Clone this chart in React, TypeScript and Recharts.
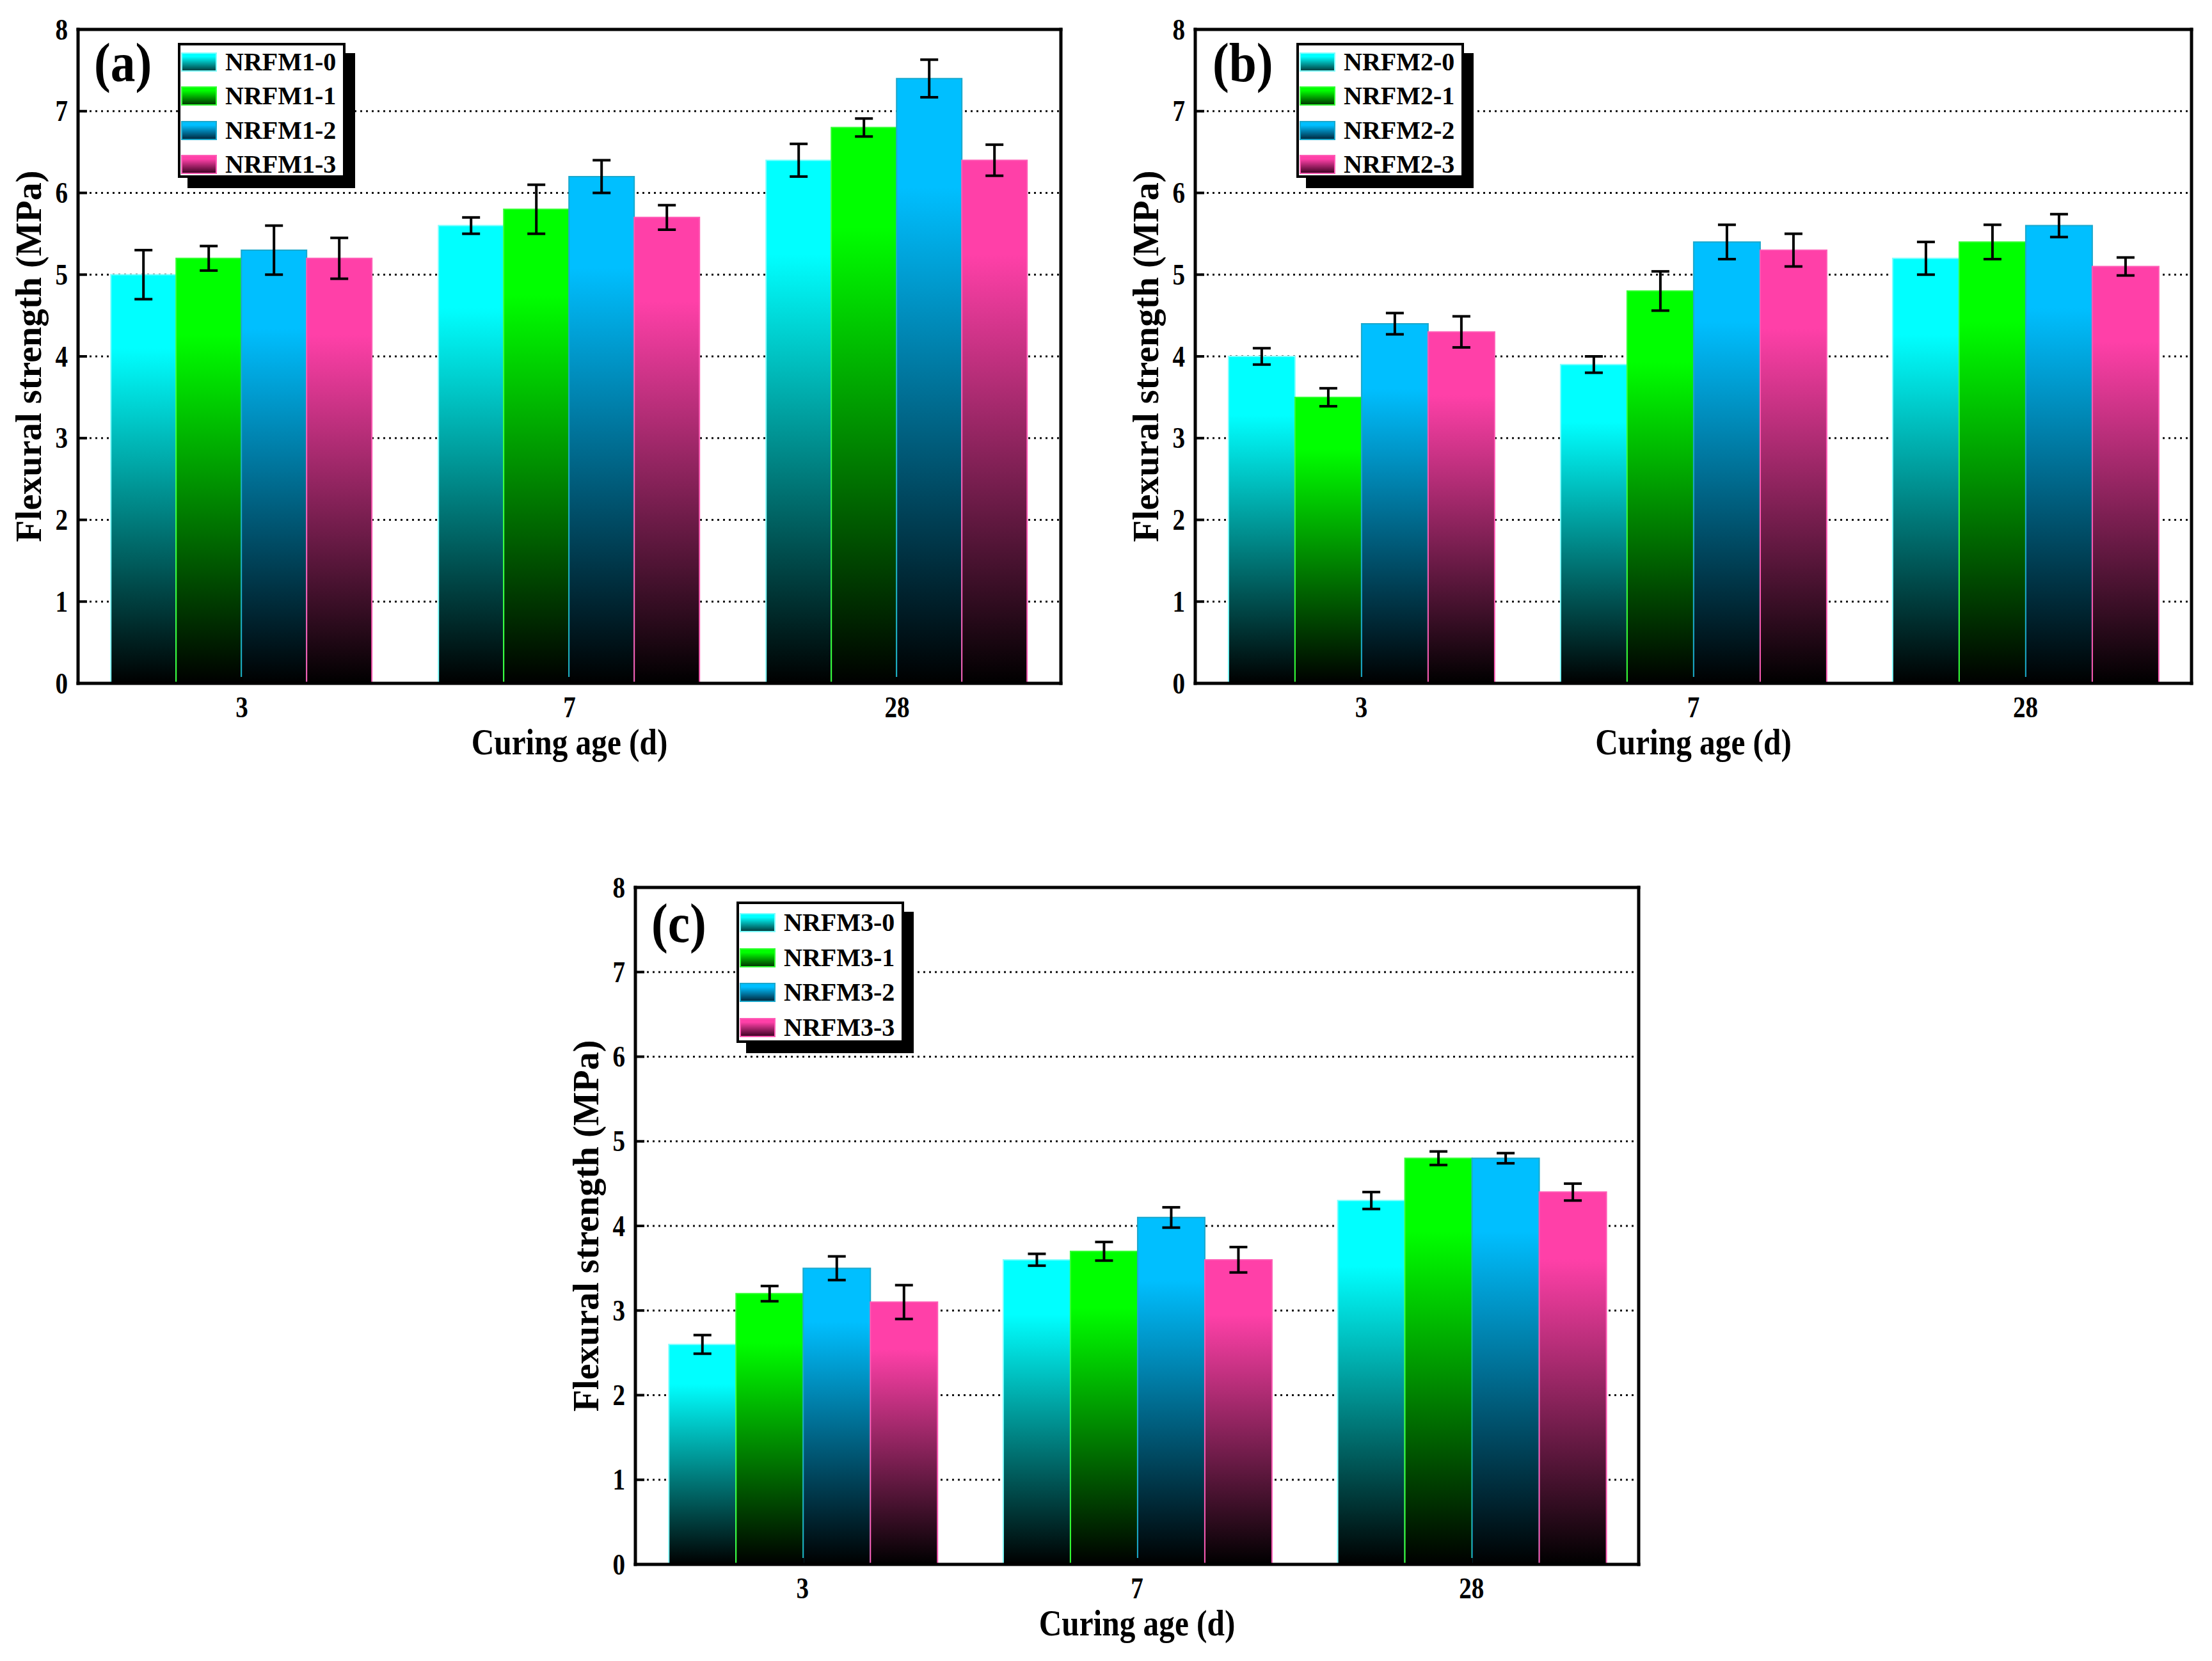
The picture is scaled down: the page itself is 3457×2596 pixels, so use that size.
import React from 'react';
import { BarChart, Bar, XAxis, YAxis, CartesianGrid, ErrorBar, Legend } from 'recharts';

// ---------- data ----------
const AGES = ['3', '7', '28'];
const Y_TICKS = [0, 1, 2, 3, 4, 5, 6, 7, 8];
const Y_MINOR_TICKS = [0.5, 1.5, 2.5, 3.5, 4.5, 5.5, 6.5, 7.5];
const X_MINOR_TICKS = [1, 2];

const A_NAMES = ['NRFM1-0', 'NRFM1-1', 'NRFM1-2', 'NRFM1-3'];
const A_S0 = [5.0, 5.6, 6.4];
const A_S1 = [5.2, 5.8, 6.8];
const A_S2 = [5.3, 6.2, 7.4];
const A_S3 = [5.2, 5.7, 6.4];
const A_E0 = [0.3, 0.1, 0.2];
const A_E1 = [0.15, 0.3, 0.11];
const A_E2 = [0.3, 0.2, 0.23];
const A_E3 = [0.25, 0.15, 0.19];

const B_NAMES = ['NRFM2-0', 'NRFM2-1', 'NRFM2-2', 'NRFM2-3'];
const B_S0 = [4.0, 3.9, 5.2];
const B_S1 = [3.5, 4.8, 5.4];
const B_S2 = [4.4, 5.4, 5.6];
const B_S3 = [4.3, 5.3, 5.1];
const B_E0 = [0.1, 0.1, 0.2];
const B_E1 = [0.11, 0.24, 0.21];
const B_E2 = [0.13, 0.21, 0.14];
const B_E3 = [0.19, 0.2, 0.11];

const C_NAMES = ['NRFM3-0', 'NRFM3-1', 'NRFM3-2', 'NRFM3-3'];
const C_S0 = [2.6, 3.6, 4.3];
const C_S1 = [3.2, 3.7, 4.8];
const C_S2 = [3.5, 4.1, 4.8];
const C_S3 = [3.1, 3.6, 4.4];
const C_E0 = [0.11, 0.07, 0.1];
const C_E1 = [0.09, 0.11, 0.08];
const C_E2 = [0.14, 0.12, 0.06];
const C_E3 = [0.2, 0.15, 0.1];

// ---------- styles ----------
const COLORS = ['#00FFFF', '#00FF00', '#00BFFF', '#FF40A8'];
const EDGES = ['#80FFFF', '#33FF33', '#1BA8CC', '#FF5CB6'];
const DARKS = ['#003838', '#003000', '#002438', '#3a0020'];
const FONT = "'Liberation Serif', 'Times New Roman', serif";
const OFF = 8;

const PANELS = [
  {
    pid: 'a', tag: '(a)', names: A_NAMES,
    values: [A_S0, A_S1, A_S2, A_S3], errors: [A_E0, A_E1, A_E2, A_E3],
    box: { x: 0, y: 0, w: 1700, h: 1240 },
    plot: { l: 122, r: 1658, t: 46, b: 1068 },
    legend: { x: 278, y: 67, h: 211, row0: 30, step: 53.3 },
    tagPos: { x: 147, y: 127 },
  },
  {
    pid: 'b', tag: '(b)', names: B_NAMES,
    values: [B_S0, B_S1, B_S2, B_S3], errors: [B_E0, B_E1, B_E2, B_E3],
    box: { x: 1740, y: 0, w: 1709, h: 1240 },
    plot: { l: 1868, r: 3425, t: 46, b: 1068 },
    legend: { x: 2026, y: 67, h: 211, row0: 30, step: 53.3 },
    tagPos: { x: 1895, y: 127 },
  },
  {
    pid: 'c', tag: '(c)', names: C_NAMES,
    values: [C_S0, C_S1, C_S2, C_S3], errors: [C_E0, C_E1, C_E2, C_E3],
    box: { x: 870, y: 1330, w: 1760, h: 1248 },
    plot: { l: 993, r: 2561, t: 1387, b: 2445 },
    legend: { x: 1151, y: 1409, h: 221, row0: 33, step: 54.7 },
    tagPos: { x: 1018, y: 1472 },
  },
];

const YTick = (props: any) => {
  const { x, y, payload } = props;
  return (
    <text transform={`translate(${x},${y}) scale(0.85,1)`} textAnchor="end" dy="0.34em"
      fontFamily={FONT} fontWeight="bold" fontSize={46} fill="#000">
      {payload.value}
    </text>
  );
};

const XTick = (props: any) => {
  const { x, y, payload } = props;
  return (
    <text transform={`translate(${x},${y}) scale(0.85,1)`} textAnchor="middle" dy="0.34em"
      fontFamily={FONT} fontWeight="bold" fontSize={46} fill="#000">
      {payload.value}
    </text>
  );
};

const YLabel = (props: any) => {
  const vb = props.viewBox || {};
  const bx = vb.x + vb.width - 58;
  const cy = vb.y + vb.height / 2;
  return (
    <text transform={`translate(${bx},${cy}) rotate(-90)`} textAnchor="middle"
      fontFamily={FONT} fontWeight="bold" fontSize={56} fill="#000">
      Flexural strength (MPa)
    </text>
  );
};

const XLabel = (props: any) => {
  const vb = props.viewBox || {};
  const cx = vb.x + vb.width / 2;
  const by = vb.y + 111;
  return (
    <text transform={`translate(${cx},${by}) scale(0.85,1)`} textAnchor="middle"
      fontFamily={FONT} fontWeight="bold" fontSize={58} fill="#000">
      Curing age (d)
    </text>
  );
};

const frameLine = { stroke: '#000', strokeWidth: 5, strokeLinecap: 'square' as const };
const tickStyle = { stroke: '#000', strokeWidth: 4 };

function Panel({ p }: { p: any }) {
  const rows = AGES.map((age, i) => {
    const r: any = { age };
    p.values.forEach((s: number[], k: number) => { r[`v${k}`] = s[i]; });
    p.errors.forEach((s: number[], k: number) => { r[`e${k}`] = s[i]; });
    return r;
  });
  // thin (1px) helper axes: top frame, right frame, minor tick axes
  const margin = {
    top: p.plot.t - p.box.y - 1,
    right: p.box.x + p.box.w - p.plot.r - 1,
    bottom: 0,
    left: 0,
  };
  const yw = p.plot.l - p.box.x - 1;
  const xh = p.box.y + p.box.h - p.plot.b - 1;
  const lg = p.legend;

  const renderLegend = () => (
    <div style={{
      position: 'relative', width: 262, height: lg.h, boxSizing: 'border-box',
      border: '4px solid #000', background: '#fff', boxShadow: '15px 16px 0 0 #000',
      fontFamily: FONT,
    }}>
      {p.names.map((n: string, i: number) => (
        <div key={n} style={{
          position: 'absolute', left: 1, top: lg.row0 + i * lg.step - 4 - 15,
          height: 30, display: 'flex', alignItems: 'center',
        }}>
          <svg width={56} height={30} style={{ display: 'block' }}>
            <defs>
              <linearGradient id={`${p.pid}lg${i}`} x1="0" y1="0" x2="0" y2="1">
                <stop offset="0" stopColor={COLORS[i]} />
                <stop offset="0.2" stopColor={COLORS[i]} />
                <stop offset="1" stopColor={DARKS[i]} />
              </linearGradient>
            </defs>
            <rect x={1} y={1} width={54} height={28} fill={`url(#${p.pid}lg${i})`} stroke={EDGES[i]} strokeWidth={2} />
          </svg>
          <span style={{ marginLeft: 13, fontSize: 40, fontWeight: 'bold', lineHeight: '40px', whiteSpace: 'nowrap', color: '#000' }}>{n}</span>
        </div>
      ))}
    </div>
  );

  return (
    <div style={{ position: 'absolute', left: p.box.x - OFF, top: p.box.y - OFF }}>
      <BarChart width={p.box.w} height={p.box.h} data={rows} margin={margin} barCategoryGap="10%" barGap={0}>
        <defs>
          {COLORS.map((c, i) => (
            <linearGradient key={i} id={`${p.pid}g${i}`} x1="0" y1="0" x2="0" y2="1">
              <stop offset="0" stopColor={c} />
              <stop offset="0.18" stopColor={c} />
              <stop offset="1" stopColor="#000" />
            </linearGradient>
          ))}
        </defs>
        <CartesianGrid vertical={false} stroke="#111" strokeWidth={3} strokeDasharray="3 6" />
        <XAxis xAxisId="minor" type="number" domain={[0, 3]} ticks={X_MINOR_TICKS} height={1}
          tick={false} axisLine={false} tickLine={tickStyle} tickSize={-6} allowDataOverflow />
        <XAxis dataKey="age" height={xh} interval={0} tickSize={-10} tickMargin={47}
          tick={<XTick />} tickLine={tickStyle} axisLine={frameLine}
          label={{ content: XLabel }} />
        <XAxis xAxisId="top" orientation="top" dataKey="age" height={1} tick={false} tickLine={false} axisLine={frameLine} />
        <YAxis yAxisId="minor" type="number" domain={[0, 8]} ticks={Y_MINOR_TICKS} width={1} interval={0}
          tick={false} axisLine={false} tickLine={tickStyle} tickSize={-8} allowDataOverflow />
        <YAxis type="number" domain={[0, 8]} ticks={Y_TICKS} width={yw} interval={0} tickSize={-14} tickMargin={30}
          tick={<YTick />} tickLine={tickStyle} axisLine={frameLine}
          label={{ content: YLabel }} allowDataOverflow />
        <YAxis yAxisId="right" orientation="right" type="number" domain={[0, 8]} width={1}
          tick={false} tickLine={false} axisLine={frameLine} allowDataOverflow />
        {COLORS.map((c, i) => (
          <Bar key={i} dataKey={`v${i}`} name={p.names[i]} fill={`url(#${p.pid}g${i})`}
            stroke={EDGES[i]} strokeWidth={2} isAnimationActive={false}>
            <ErrorBar dataKey={`e${i}`} direction="y" width={14} strokeWidth={4} stroke="#000" />
          </Bar>
        ))}
        <Legend layout="vertical" align="center" verticalAlign="middle" content={renderLegend}
          wrapperStyle={{ left: lg.x - p.box.x, top: lg.y - p.box.y, width: 262, height: lg.h }} />
      </BarChart>
    </div>
  );
}

export default function App() {
  return (
    <div style={{ position: 'relative', width: 3441, height: 2570, background: '#fff' }}>
      {PANELS.map((p) => <Panel key={p.pid} p={p} />)}
      <svg width={3441} height={2570} style={{ position: 'absolute', left: 0, top: 0, pointerEvents: 'none' }}>
        {PANELS.map((p) => (
          <text key={p.pid} transform={`translate(${p.tagPos.x - OFF},${p.tagPos.y - OFF}) scale(0.9,1)`}
            fontFamily={FONT} fontWeight="bold" fontSize={86} fill="#000">
            {p.tag}
          </text>
        ))}
      </svg>
    </div>
  );
}
